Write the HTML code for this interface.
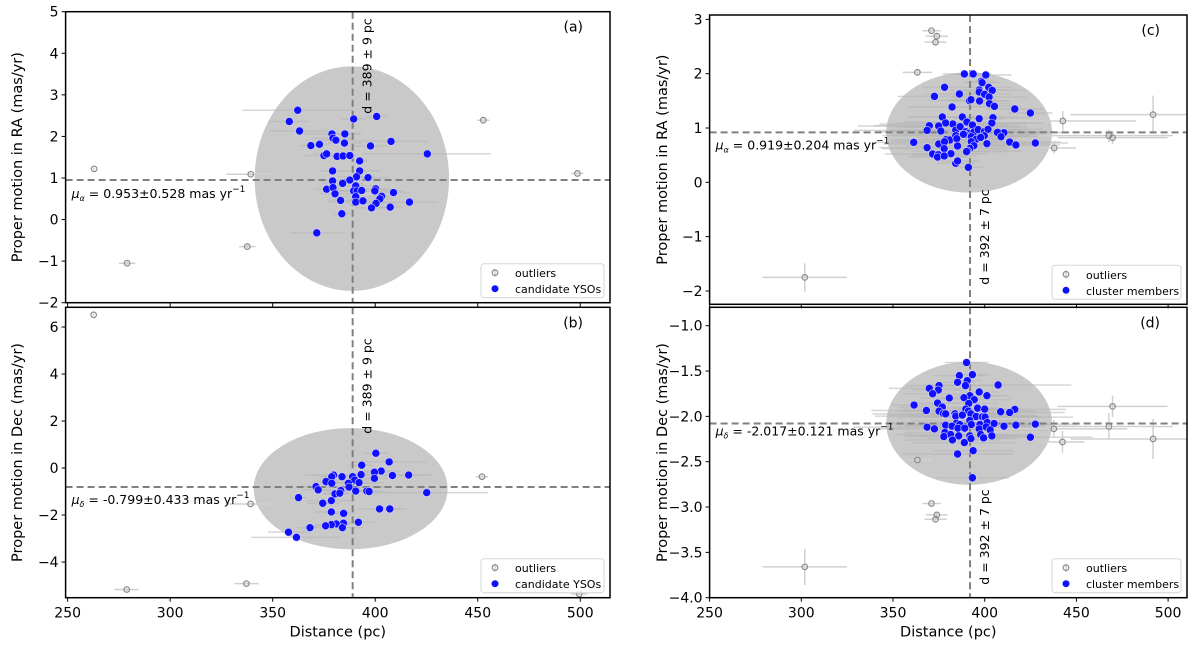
<!DOCTYPE html>
<html><head><meta charset="utf-8"><style>
html,body{margin:0;padding:0;background:#fff;}
svg{display:block;font-family:"DejaVu Sans","Liberation Sans",sans-serif;}
</style></head><body>
<svg id="fig" width="1200" height="648" viewBox="0 0 1200 648" xmlns="http://www.w3.org/2000/svg"></svg>
<script>
// ---- Panel (a): RA vs distance, candidate YSOs ----
const aDist=[362.2,358.1,363.1,378.9,385.2,379.4,380.8,368.6,372.8,385.0,389.5,400.7,407.7,397.7,375.0,376.3,381.4,384.3,387.6,425.4,392.4,392.4,379.2,390.9,396.5,387.6,379.2,384.1,390.5,376.3,379.4,389.5,391.1,393.4,400.2,399.8,408.9,380.4,390.5,403.1,402.3,383.1,390.5,394.0,400.4,398.2,407.3,416.7,383.7,371.5];
const aPm=[2.63,2.36,2.13,2.06,2.06,1.96,1.91,1.78,1.81,1.84,2.42,2.48,1.88,1.77,1.54,1.58,1.52,1.53,1.54,1.58,1.41,1.17,1.17,1.03,1.01,0.95,0.93,0.87,0.81,0.73,0.77,0.69,0.69,0.70,0.74,0.69,0.65,0.62,0.55,0.56,0.50,0.46,0.42,0.45,0.39,0.28,0.30,0.42,0.14,-0.32];
const aErr=[27,10,15,14,8,10,9,6,5,8,6,5,18,8,10,6,5,5,4,31,4,10,6,9,10,6,6,10,12,6,4,10,8,12,7,14,8,8,12,6,6,6,14,8,10,8,6,14,4,13];
const aOutDist=[262.9,339.3,337.6,279.0,452.7,498.6];
const aOutPm=[1.22,1.09,-0.65,-1.05,2.39,1.11];
const aOutErr=[0,12,4,4,3,3];
// ---- Panel (b): Dec vs distance, candidate YSOs ----
const bDist=[400.3,406.8,393.4,402.9,408.4,399.6,399.6,393.1,389.0,390.0,392.1,386.9,387.2,390.5,395.9,397.0,383.8,379.7,378.8,376.0,378.8,371.1,372.2,383.2,380.4,382.7,362.6,378.6,374.4,402.1,407.1,378.6,384.6,391.8,384.5,381.0,378.6,375.8,384.0,368.2,357.7,361.6,416.3,425.1];
const bPm=[0.63,0.26,0.12,-0.13,-0.32,-0.18,-0.44,-0.28,-0.37,-0.51,-0.62,-0.65,-0.81,-0.98,-0.98,-1.00,-0.37,-0.30,-0.37,-0.58,-0.65,-0.79,-0.93,-0.96,-1.10,-1.07,-1.26,-1.39,-1.50,-1.74,-1.74,-1.87,-1.93,-2.31,-2.35,-2.38,-2.41,-2.46,-2.54,-2.54,-2.73,-2.95,-0.30,-1.05];
const bErr=[6,18,6,10,14,8,6,8,6,10,12,14,20,10,6,8,10,14,6,6,4,8,8,10,6,8,4,12,8,10,8,8,6,8,6,6,8,10,10,6,10,22,12,30];
const bOutDist=[262.7,339.2,337.2,278.8,452.1,499.5];
const bOutPm=[6.52,-1.53,-4.92,-5.17,-0.37,-5.36];
const bOutErr=[0,12,6,6,3,4];
// ---- Panel (c): RA vs distance, cluster members ----
const cDist=[388.9,393.7,400.6,398.2,398.6,372.6,378.1,386.2,391.7,392.5,397.0,397.0,402.2,404.1,400.0,402.4,397.2,402.6,405.3,382.2,416.4,424.9,376.9,387.8,404.5,397.0,382.6,378.7,390.3,387.0,393.3,403.9,369.8,374.9,368.6,376.1,384.2,386.6,389.7,391.3,394.1,396.4,399.8,401.8,407.5,410.5,406.9,389.3,392.7,399.8,408.9,395.3,397.8,378.9,381.0,384.2,384.8,388.4,361.3,374.9,378.1,392.7,394.1,401.2,413.6,417.0,427.6,368.6,377.9,385.2,391.9,390.7,381.6,371.6,374.7,374.3,377.9,390.1,384.2,385.2,391.1];
const cPm=[1.994,1.994,1.976,1.859,1.835,1.583,1.749,1.626,1.503,1.522,1.700,1.663,1.749,1.693,1.620,1.571,1.497,1.448,1.399,1.387,1.350,1.276,1.203,1.203,1.190,1.172,1.074,1.092,1.111,1.012,1.055,1.092,1.043,1.037,0.957,0.945,0.963,1.025,0.933,0.902,0.927,0.970,0.933,0.976,0.927,0.914,0.920,0.877,0.841,0.859,0.841,0.792,0.828,0.786,0.779,0.859,0.804,0.884,0.736,0.706,0.749,0.749,0.675,0.712,0.742,0.687,0.724,0.638,0.620,0.669,0.626,0.577,0.528,0.522,0.509,0.466,0.485,0.565,0.350,0.393,0.276];
const cErr=[12,10,14,8,10,20,12,18,22,14,16,10,12,18,14,20,16,12,14,24,16,12,18,30,22,14,40,26,34,36,20,28,30,44,40,26,36,30,48,38,32,28,34,30,24,36,22,40,30,26,20,22,18,28,32,40,20,24,22,30,26,24,20,30,28,24,18,26,34,28,22,30,20,26,14,16,18,22,10,12,8];
const cOutDist=[371.0,373.9,373.2,363.3,442.6,437.9,467.7,469.7,491.8,301.9];
const cOutPm=[2.79,2.69,2.58,2.025,1.13,0.632,0.859,0.822,1.246,-1.75];
const cOutErr=[5,6,6,8,40,12,35,30,45,23];
const cOutYErr=[0.03,0.04,0.04,0.05,0.18,0.1,0.12,0.12,0.35,0.26];
// ---- Panel (d): Dec vs distance, cluster members ----
const dDist=[390.1,393.3,386.2,390.5,385.2,389.5,407.3,375.1,369.8,374.7,371.6,397.0,401.2,391.9,388.7,394.3,380.7,361.5,374.3,376.9,391.3,396.1,400.0,368.2,375.1,377.5,378.7,383.8,389.7,391.1,408.7,416.4,413.6,384.2,387.8,392.5,395.3,398.8,400.2,384.6,391.9,392.7,397.4,401.4,405.1,386.4,378.7,368.6,372.6,382.2,385.4,389.1,397.0,400.8,403.0,410.5,417.0,427.6,378.3,381.4,397.8,403.9,377.7,385.8,391.9,392.5,399.4,382.4,424.9,388.9,393.7,385.2,393.3];
const dPm=[-1.406,-1.539,-1.550,-1.606,-1.624,-1.661,-1.654,-1.661,-1.691,-1.709,-1.750,-1.731,-1.772,-1.772,-1.794,-1.816,-1.798,-1.875,-1.853,-1.898,-1.857,-1.909,-1.920,-1.935,-1.942,-1.968,-1.972,-1.972,-1.920,-1.942,-1.949,-1.923,-1.957,-1.997,-1.986,-1.972,-2.001,-2.005,-2.008,-2.075,-2.045,-2.090,-2.090,-2.068,-2.079,-2.090,-2.097,-2.119,-2.138,-2.108,-2.130,-2.130,-2.138,-2.116,-2.149,-2.108,-2.097,-2.086,-2.178,-2.200,-2.200,-2.215,-2.223,-2.215,-2.215,-2.245,-2.237,-2.260,-2.230,-2.289,-2.378,-2.415,-2.677];
const dErr=[12,10,14,8,10,20,40,18,22,14,16,10,12,18,14,20,16,12,14,24,16,12,18,30,22,14,40,26,34,36,20,28,30,44,40,26,36,30,48,38,32,28,34,30,24,36,22,40,30,26,20,22,18,28,32,40,20,24,22,30,26,24,20,30,28,24,18,26,34,28,22,30,20];
const dOutDist=[363.3,371.0,373.9,373.2,437.7,442.4,467.7,469.7,491.8,301.9];
const dOutPm=[-2.481,-2.961,-3.087,-3.135,-2.138,-2.282,-2.112,-1.890,-2.249,-3.660];
const dOutErr=[8,5,6,6,40,12,35,30,45,23];
const dOutYErr=[0.02,0.02,0.03,0.03,0.1,0.12,0.15,0.12,0.22,0.2];
// summary values: [mean distance, mean pm, ellipse cx, ellipse cy, ellipse rx, ellipse ry, dashed line pm]
const aStats=[389,0.953,388.6,0.985,47.4,2.70,0.953];
const bStats=[389,-0.799,388.0,-0.88,47.3,2.58,-0.81];
const cStats=[392,0.919,391.5,0.918,45.2,1.107,0.919];
const dStats=[392,-2.017,391.5,-2.077,45.2,0.678,-2.079];
const xTicks=[250,300,350,400,450,500];
const aYTicks=[5,4,3,2,1,0,-1,-2];
const bYTicks=[6,4,2,0,-2,-4];
const cYTicks=[3,2,1,0,-1,-2];
const dYTicks=[-1.0,-1.5,-2.0,-2.5,-3.0,-3.5,-4.0];

const NS="http://www.w3.org/2000/svg";
const svg=document.getElementById('fig');
function mk(tag,attrs,parent){const e=document.createElementNS(NS,tag);for(const k in attrs)e.setAttribute(k,attrs[k]);(parent||svg).appendChild(e);return e;}
function fmt(v,dec){let s=v.toFixed(dec);return s.replace('-','\u2212');}

function panel(P){
  const g=mk('g',{});
  
  
  const sx=v=>P.L+(v-P.x0)/(P.x1-P.x0)*(P.R-P.L);
  const sy=v=>P.T+(P.y1-v)/(P.y1-P.y0)*(P.B-P.T);
  const clip='clip-'+P.id;
  const cp=mk('clipPath',{id:clip},g);mk('rect',{x:P.L,y:P.T,width:P.R-P.L,height:P.B-P.T},cp);
  const body=mk('g',{'clip-path':'url(#'+clip+')'},g);
  const st=P.stats;
  const el=mk('ellipse',{cx:sx(st[2]),cy:sy(st[3]),rx:sx(st[2]+st[4])-sx(st[2]),ry:sy(st[3])-sy(st[3]+st[5]),fill:'#c9c9c9'},body);
  
  
  for(let i=0;i<P.dist.length;i++){
    const y=sy(P.pm[i]);
    const eb=mk('line',{x1:sx(P.dist[i]-P.err[i]),x2:sx(P.dist[i]+P.err[i]),y1:y,y2:y,stroke:'#b5b5b5','stroke-opacity':0.55,'stroke-width':1.5},body);
    
    
  }
  for(let i=0;i<P.oDist.length;i++){
    const x=sx(P.oDist[i]),y=sy(P.oPm[i]);
    if(P.oErr[i]>0){const eb=mk('line',{x1:sx(P.oDist[i]-P.oErr[i]),x2:sx(P.oDist[i]+P.oErr[i]),y1:y,y2:y,stroke:'#d0d0d0','stroke-width':1.5},body);
      
      }
    const ye=P.oYErr?P.oYErr[i]:0.04*(P.y1-P.y0)/7;
    const ev=mk('line',{x1:x,x2:x,y1:sy(P.oPm[i]-ye),y2:sy(P.oPm[i]+ye),stroke:'#d0d0d0','stroke-width':1.5},body);
    
    
  }
  const vl=mk('line',{x1:sx(st[0]),x2:sx(st[0]),y1:P.T,y2:P.B,stroke:'#808080','stroke-width':2,'stroke-dasharray':'7,4'},body);
  
  
  const hl=mk('line',{x1:P.L,x2:P.R,y1:sy(st[6]),y2:sy(st[6]),stroke:'#808080','stroke-width':2,'stroke-dasharray':'7,4'},body);
  
  
  for(let i=0;i<P.oDist.length;i++){
    const c=mk('circle',{cx:sx(P.oDist[i]),cy:sy(P.oPm[i]),r:2.8,fill:'none',stroke:'#8c8c8c','stroke-width':1.2},body);
    
    
  }
  for(let i=0;i<P.dist.length;i++){
    const c=mk('circle',{cx:sx(P.dist[i]),cy:sy(P.pm[i]),r:4,fill:'#1010ff',stroke:'#d8d8ff','stroke-width':0.6},body);
    
    
  }
  const fr=mk('rect',{x:P.L,y:P.T,width:P.R-P.L,height:P.B-P.T,fill:'none',stroke:'#000','stroke-width':1.5},g);
  
  
  xTicks.forEach(t=>{const x=sx(t);mk('line',{x1:x,x2:x,y1:P.B,y2:P.B+4,stroke:'#000','stroke-width':1},g);
    if(P.xlabels){const tx=mk('text',{x:x,y:P.B+20,'font-size':14,'text-anchor':'middle',fill:'#000'},g);tx.textContent=t;
      
      }});
  P.yt.forEach(t=>{const y=sy(t);mk('line',{x1:P.L-4,x2:P.L,y1:y,y2:y,stroke:'#000','stroke-width':1},g);
    const tx=mk('text',{x:P.L-7,y:y+5,'font-size':14,'text-anchor':'end',fill:'#000'},g);tx.textContent=fmt(t,P.ydec);
    
    });
  if(P.xlabels){const xt=mk('text',{x:(P.L+P.R)/2,y:P.B+39,'font-size':14.5,'text-anchor':'middle'},g);xt.textContent='Distance (pc)';
    
    }
  const yt=mk('text',{x:0,y:0,'font-size':14.5,'text-anchor':'middle',transform:'translate('+P.ylx+','+((P.T+P.B)/2)+') rotate(-90)'},g);yt.textContent=P.ylabel;
  
  
  const pl=mk('text',{x:P.R-27,y:P.T+20,'font-size':14,'text-anchor':'end'},g);pl.textContent=P.letter;
  
  
  const mu=mk('text',{x:P.L+6,y:sy(st[6])+P.muDy,'font-size':12.5},g);
  mu.innerHTML='<tspan font-style="italic">μ</tspan><tspan font-size="8" font-style="italic" dy="3">'+P.sub+'</tspan><tspan dy="-3"> = '+st[1].toFixed(3)+'±'+P.muErr+' mas yr</tspan><tspan font-size="9" dy="-6">−1</tspan>';
  
  
  const dl=mk('text',{x:0,y:0,'font-size':12.5,'text-anchor':'middle',transform:'translate('+(sx(st[0])+19)+','+P.dY+') rotate(-90)'},g);dl.textContent='d = '+st[0]+' ± '+P.dErr+' pc';
  
  
  const lg=mk('g',{},g);
  
  
  const lw=P.legW,lx=P.R-6-lw,ly=P.B-39;
  mk('rect',{x:lx,y:ly,width:lw,height:34,rx:3,fill:'#fff','fill-opacity':0.85,stroke:'#d5d5d5'},lg);
  mk('line',{x1:lx+14,x2:lx+14,y1:ly+5,y2:ly+13,stroke:'#d0d0d0','stroke-width':1.5},lg);
  mk('circle',{cx:lx+14,cy:ly+9,r:2.8,fill:'none',stroke:'#8c8c8c','stroke-width':1.2},lg);
  mk('circle',{cx:lx+14,cy:ly+25,r:3.5,fill:'#1010ff'},lg);
  const t1=mk('text',{x:lx+34,y:ly+13.5,'font-size':11},lg);t1.textContent='outliers';
  
  
  const t2=mk('text',{x:lx+34,y:ly+29.5,'font-size':11},lg);t2.textContent=P.memLabel;
  
  
}

panel({id:'a',name:'panel-a-ra',L:65.6,R:610,T:11.7,B:302.7,x0:249.0,x1:514.5,y0:-2,y1:5,dist:aDist,pm:aPm,err:aErr,oDist:aOutDist,oPm:aOutPm,oErr:aOutErr,stats:aStats,yt:aYTicks,ydec:0,xlabels:false,ylabel:'Proper motion in RA (mas/yr)',ylx:22,letter:'(a)',sub:'α',muErr:'0.528',muDy:18,dErr:9,dY:66,legW:123,memLabel:'candidate YSOs'});
panel({id:'b',name:'panel-b-dec',L:65.6,R:610,T:307.3,B:597.7,x0:249.0,x1:514.5,y0:-5.52,y1:6.84,dist:bDist,pm:bPm,err:bErr,oDist:bOutDist,oPm:bOutPm,oErr:bOutErr,stats:bStats,yt:bYTicks,ydec:0,xlabels:true,ylabel:'Proper motion in Dec (mas/yr)',ylx:22,letter:'(b)',sub:'δ',muErr:'0.433',muDy:17,dErr:9,dY:386,legW:123,memLabel:'candidate YSOs'});
panel({id:'c',name:'panel-c-ra',L:709.6,R:1187,T:15,B:304.3,x0:250,x1:510.3,y0:-2.245,y1:3.08,dist:cDist,pm:cPm,err:cErr,oDist:cOutDist,oPm:cOutPm,oErr:cOutErr,oYErr:cOutYErr,stats:cStats,yt:cYTicks,ydec:0,xlabels:false,ylabel:'Proper motion in RA (mas/yr)',ylx:667,letter:'(c)',sub:'α',muErr:'0.204',muDy:17,dErr:7,dY:237,legW:129,memLabel:'cluster members'});
panel({id:'d',name:'panel-d-dec',L:709.6,R:1187,T:307.3,B:597.7,x0:250,x1:510.3,y0:-4.0,y1:-0.797,dist:dDist,pm:dPm,err:dErr,oDist:dOutDist,oPm:dOutPm,oErr:dOutErr,oYErr:dOutYErr,stats:dStats,yt:dYTicks,ydec:1,xlabels:true,ylabel:'Proper motion in Dec (mas/yr)',ylx:667,letter:'(d)',sub:'δ',muErr:'0.121',muDy:12,dErr:7,dY:537,legW:129,memLabel:'cluster members'});
</script>
</body></html>
